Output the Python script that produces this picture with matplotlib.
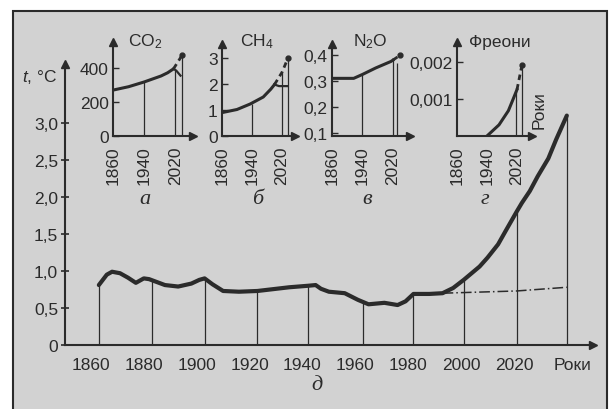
import matplotlib
matplotlib.use("Agg")

import matplotlib.pyplot as plt
from matplotlib.patches import Rectangle


# ============================================================
# DATA
# ============================================================

# main chart: temperature, degrees C
temp_years = [1863, 1866, 1868, 1871, 1874, 1877, 1880, 1882, 1885, 1888,
              1893, 1898, 1901, 1903, 1906, 1910, 1916, 1923, 1935, 1942,
              1945, 1947, 1950, 1956, 1961, 1965, 1971, 1976, 1979, 1982,
              1988, 1993, 1997, 2001, 2004, 2007, 2010, 2014, 2017, 2021,
              2023, 2026, 2029, 2033, 2036, 2040]
temp_values = [0.81, 0.95, 0.99, 0.97, 0.91, 0.84, 0.90, 0.89, 0.85, 0.81,
               0.79, 0.83, 0.88, 0.90, 0.82, 0.73, 0.72, 0.73, 0.78, 0.80,
               0.81, 0.76, 0.72, 0.70, 0.61, 0.55, 0.57, 0.54, 0.59, 0.69,
               0.69, 0.70, 0.77, 0.88, 0.97, 1.06, 1.18, 1.36, 1.55, 1.80,
               1.92, 2.08, 2.28, 2.52, 2.78, 3.10]

temp_flat_years = [1993, 2021, 2040]
temp_flat_values = [0.70, 0.73, 0.78]

drop_years = [1863, 1883, 1903, 1923, 1942, 1963, 1982, 2001, 2021, 2040]

main_yticks = [0, 0.5, 1.0, 1.5, 2.0, 2.5, 3.0]
main_ylabels = ["0", "0,5", "1,0", "1,5", "2,0", "2,5", "3,0"]
main_xticks = [1860, 1880, 1900, 1920, 1940, 1960, 1980, 2000, 2020, 2042]
main_xlabels = ["1860", "1880", "1900", "1920", "1940", "1960", "1980",
                "2000", "2020", "Роки"]

inset_years = [1860, 1940, 2020]

# CO2
co2_years = [1860, 1900, 1940, 1983, 2000, 2015]
co2_values = [270, 290, 318, 353, 372, 395]
co2_up_years = [2015, 2037]
co2_up_values = [395, 475]
co2_low_years = [2015, 2022, 2033]
co2_low_values = [395, 385, 355]
co2_lines = [1940, 2020, 2037]
co2_line_tops = [318, 390, 475]
co2_ticks = [0, 200, 400]

# CH4
ch4_years = [1860, 1900, 1935, 1970, 1990, 2000]
ch4_values = [0.90, 1.02, 1.23, 1.50, 1.80, 1.98]
ch4_up_years = [2000, 2020, 2036]
ch4_up_values = [1.98, 2.45, 3.00]
ch4_low_years = [2000, 2012, 2034]
ch4_low_values = [1.98, 1.92, 1.92]
ch4_lines = [1940, 2020, 2036]
ch4_line_tops = [1.25, 2.45, 3.0]
ch4_ticks = [0, 1, 2, 3]

# N2O
n2o_years = [1860, 1917, 1940, 1975, 2015, 2020]
n2o_values = [0.31, 0.31, 0.325, 0.35, 0.375, 0.38]
n2o_up_years = [2020, 2040]
n2o_up_values = [0.38, 0.40]
n2o_lines = [1940, 2020, 2031]
n2o_line_tops = [0.325, 0.38, 0.37]
n2o_ticks = [0.1, 0.2, 0.3, 0.4]
n2o_labels = ["0,1", "0,2", "0,3", "0,4"]

# freons
freon_years = [1940, 1972, 1997, 2010, 2020]
freon_values = [0.0, 0.0003, 0.00068, 0.0010, 0.00125]
freon_up_years = [2020, 2033]
freon_up_values = [0.00125, 0.0019]
freon_lines = [2018, 2033]
freon_line_tops = [0.0012, 0.0019]
freon_ticks = [0.001, 0.002]
freon_labels = ["0,001", "0,002"]


# ============================================================
# STYLE
# ============================================================

plt.rcParams["font.family"] = ["Liberation Sans", "DejaVu Sans"]
plt.rcParams["mathtext.fontset"] = "custom"
plt.rcParams["mathtext.rm"] = "Liberation Sans"
plt.rcParams["mathtext.it"] = "Liberation Sans:italic"

INK = "#2b2b2b"
PAPER = "#d2d2d2"

W, H = 611, 410

fig = plt.figure(figsize=(W / 100, H / 100), dpi=100)
fig.patch.set_facecolor("white")


def px_rect(left, bottom, right, top):
    # pixel coords measured from the top-left corner
    return [left / W, 1 - bottom / H, (right - left) / W, (bottom - top) / H]


def fig_xy(x, y):
    return x / W, 1 - y / H


# ------------------------------------------------------------
# PAPER BACKGROUND + FRAME
# ------------------------------------------------------------
fig.patches.append(
    Rectangle(
        fig_xy(13, 412),
        594 / W,
        400 / H,
        transform=fig.transFigure,
        facecolor=PAPER,
        edgecolor=INK,
        linewidth=1.5,
        zorder=-10,
    )
)


def style_axes(ax, lw):
    ax.set_facecolor("none")
    for side in ["top", "right"]:
        ax.spines[side].set_visible(False)
    for side in ["left", "bottom"]:
        ax.spines[side].set_linewidth(lw)
        ax.spines[side].set_color(INK)
    ax.plot(0, 1, marker="^", markersize=6, color=INK,
            transform=ax.transAxes, clip_on=False)
    ax.plot(1, 0, marker=">", markersize=6, color=INK,
            transform=ax.transAxes, clip_on=False)


# ============================================================
# MAIN CHART
# ============================================================

ax = fig.add_axes(px_rect(65, 346, 593, 65))
style_axes(ax, 1.5)

ax.set_xlim(1850.2, 2049.9)
ax.set_ylim(0, 3.797)

for yr in drop_years:
    idx = min(range(len(temp_years)), key=lambda i: abs(temp_years[i] - yr))
    ax.vlines(yr, 0, temp_values[idx], color=INK, linewidth=0.9)

ax.plot(temp_flat_years, temp_flat_values, color=INK, linewidth=1.1,
        dashes=(7, 2, 1, 2))
ax.plot(temp_years, temp_values, color=INK, linewidth=3.0,
        solid_capstyle="round", solid_joinstyle="round")

ax.set_yticks(main_yticks)
ax.set_yticklabels(main_ylabels)
ax.set_xticks(main_xticks)
ax.set_xticklabels(main_xlabels)
ax.tick_params(axis="y", direction="inout", length=6, width=1.2,
               colors=INK, labelsize=12.5, pad=2)
ax.tick_params(axis="x", length=0, colors=INK, labelsize=12.5, pad=9)

fig.text(*fig_xy(40, 77), r"$t$, °C", fontsize=12.5, color=INK,
         ha="center", va="center")
fig.text(*fig_xy(317, 386), "д", fontsize=16, color=INK, style="italic",
         family=["Liberation Serif", "DejaVu Serif"], ha="center",
         va="center")


# ============================================================
# INSETS
# ============================================================

def make_inset(rect, xlim, ylim, yticks, ylabels, title, title_x):
    iax = fig.add_axes(px_rect(*rect))
    style_axes(iax, 1.5)
    iax.set_xlim(*xlim)
    iax.set_ylim(*ylim)
    iax.set_xticks(inset_years)
    iax.set_xticklabels([str(y) for y in inset_years], rotation=90)
    iax.set_yticks(yticks)
    iax.set_yticklabels(ylabels)
    iax.tick_params(axis="x", length=0, colors=INK, labelsize=12.5, pad=7)
    iax.tick_params(axis="y", direction="in", length=4, width=1.0,
                    colors=INK, labelsize=12.5, pad=3)
    fig.text(*fig_xy(title_x, 42), title, fontsize=12.5, color=INK,
             ha="center", va="center")
    return iax


def draw_inset(iax, years, values, up_years, up_values, low_years,
               low_values, lines, line_tops):
    y0 = iax.get_ylim()[0]
    for yr, top in zip(lines, line_tops):
        iax.vlines(yr, y0, top, color=INK, linewidth=0.9)
    iax.plot(years, values, color=INK, linewidth=2.2,
             solid_joinstyle="round")
    if low_years:
        iax.plot(low_years, low_values, color=INK, linewidth=1.6)
    iax.plot(up_years, up_values, color=INK, linewidth=2.0, dashes=(2, 1.5))
    iax.plot(up_years[-1], up_values[-1], "o", ms=3.5, color=INK)


letters = [("а", 145), ("б", 258), ("в", 367), ("г", 485)]
for letter, lx in letters:
    fig.text(*fig_xy(lx, 200), letter, fontsize=16, color=INK,
             style="italic", family=["Liberation Serif", "DejaVu Serif"],
             ha="center", va="center")

# ------------------------------------------------------------
# CO2
# ------------------------------------------------------------
co2_ax = make_inset((113, 137, 193, 43), (1860, 2065), (0, 553),
                    co2_ticks, [str(t) for t in co2_ticks],
                    r"CO$_2$", 145)
draw_inset(co2_ax, co2_years, co2_values, co2_up_years, co2_up_values,
           co2_low_years, co2_low_values, co2_lines, co2_line_tops)

# ------------------------------------------------------------
# CH4
# ------------------------------------------------------------
ch4_ax = make_inset((222, 137, 295, 45), (1860, 2054.7), (0, 3.54),
                    ch4_ticks, [str(t) for t in ch4_ticks],
                    r"CH$_4$", 257)
draw_inset(ch4_ax, ch4_years, ch4_values, ch4_up_years, ch4_up_values,
           ch4_low_years, ch4_low_values, ch4_lines, ch4_line_tops)

# ------------------------------------------------------------
# N2O
# ------------------------------------------------------------
n2o_ax = make_inset((332, 137, 410, 45), (1860, 2065), (0.0885, 0.442),
                    n2o_ticks, n2o_labels, r"N$_2$O", 370)
draw_inset(n2o_ax, n2o_years, n2o_values, n2o_up_years, n2o_up_values,
           [], [], n2o_lines, n2o_line_tops)

# ------------------------------------------------------------
# FREONS
# ------------------------------------------------------------
freon_ax = make_inset((457, 137, 532, 43), (1860, 2060), (0, 0.00253),
                      freon_ticks, freon_labels, "Фреони", 500)
draw_inset(freon_ax, freon_years, freon_values, freon_up_years,
           freon_up_values, [], [], freon_lines, freon_line_tops)

fig.text(*fig_xy(539, 110), "Роки", fontsize=12.5, color=INK,
         rotation=90, ha="center", va="center")


fig.savefig("out.png", dpi=100)
